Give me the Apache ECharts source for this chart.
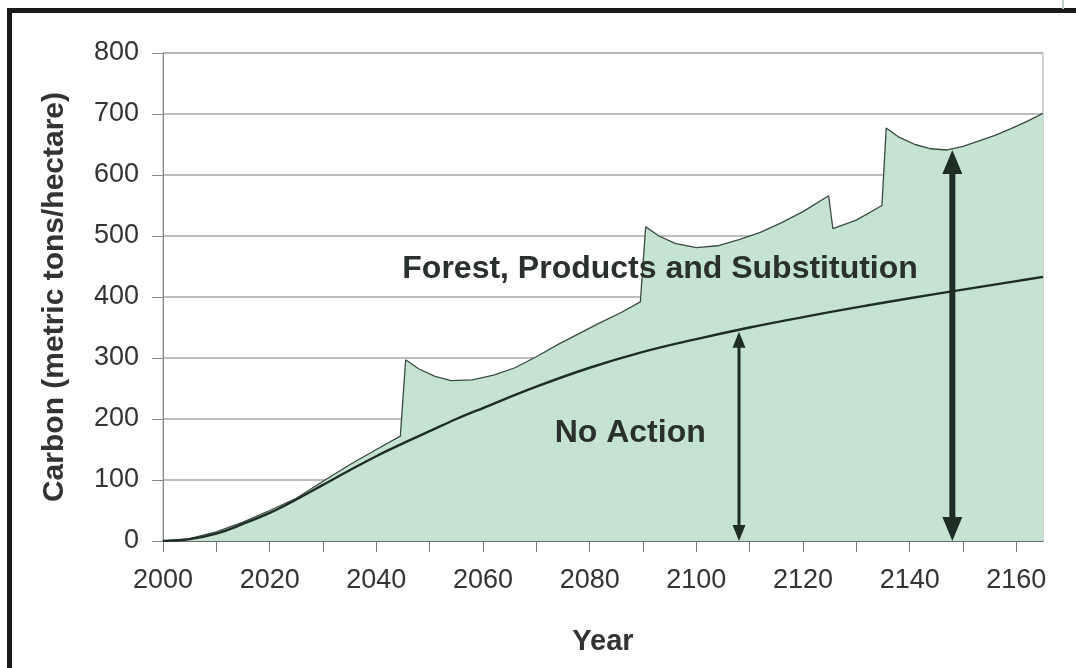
<!DOCTYPE html>
<html>
<head>
<meta charset="utf-8">
<title>Carbon per hectare</title>
<script src="https://cdn.jsdelivr.net/npm/echarts@6/dist/echarts.min.js"></script>
<style>
  html, body { margin: 0; padding: 0; background: #fff; }
  #chart { width: 1076px; height: 668px; }
</style>
</head>
<body>
<div id="chart"></div>
<script>
// upper envelope: forest + products + substitution
const upYears = [2000, 2005, 2010, 2015, 2020, 2025, 2030, 2035, 2040, 2044.5,
  2045.5, 2048, 2051, 2054, 2058, 2062, 2066, 2070, 2074, 2078, 2082, 2086, 2089.5,
  2090.5, 2093, 2096, 2100, 2104, 2108, 2112, 2116, 2120, 2124.8,
  2125.6, 2130, 2134.8,
  2135.6, 2138, 2141, 2144, 2147, 2150, 2153, 2156, 2159, 2162, 2165]
const upValues = [0, 4, 15, 31, 50, 70, 98, 125, 150, 172,
  297, 282, 270, 263, 264, 272, 284, 302, 322, 340, 358, 375, 392,
  515, 500, 488, 481, 484, 494, 506, 522, 540, 566,
  512, 526, 550,
  677, 662, 650, 643, 641, 647, 656, 665, 676, 688, 701]

// no action curve
const naYears = [2000, 2005, 2010, 2015, 2020, 2025, 2030, 2035, 2040, 2045, 2050,
  2055, 2060, 2070, 2080, 2090, 2100, 2110, 2120, 2130, 2140, 2150, 2160, 2165]
const naValues = [0, 3, 12, 28, 46, 68, 92, 116, 139, 160, 180,
  200, 218, 253, 284, 310, 331, 350, 367, 383, 398, 412, 426, 433]

// double arrows
const arrowYears = [2108, 2148]
const arrowTops = [343, 641]

const labelForest = 'Forest, Products and Substitution'
const labelNoAction = 'No Action'

function pairs (xs, ys) {
    let out = []
    for (var i = 0; i < xs.length; i++) {
        out.push([xs[i], ys[i]])
    }
    return out
}

const FILL = '#c4e4d1'
const DARK = '#1f2d26'
const font = '"Liberation Sans", Arial, sans-serif'

// arrow look per arrow
const arrowStyle = [
    { width: 3, headW: 13, headL: 16 },
    { width: 6, headW: 20, headL: 24 }
]

function renderArrow (params, api) {
    const i = params.dataIndex
    const st = arrowStyle[i]
    const p0 = api.coord([api.value(0), 0])
    const p1 = api.coord([api.value(0), api.value(1)])
    const x = p0[0]
    return {
        type: 'group',
        children: [
            {
                type: 'line',
                shape: { x1: x, y1: p0[1] - st.headL + 2, x2: x, y2: p1[1] + st.headL - 2 },
                style: { stroke: DARK, lineWidth: st.width }
            },
            {
                type: 'polygon',
                shape: { points: [[x, p1[1]], [x - st.headW / 2, p1[1] + st.headL], [x + st.headW / 2, p1[1] + st.headL]] },
                style: { fill: DARK }
            },
            {
                type: 'polygon',
                shape: { points: [[x, p0[1]], [x - st.headW / 2, p0[1] - st.headL], [x + st.headW / 2, p0[1] - st.headL]] },
                style: { fill: DARK }
            }
        ]
    }
}

const myChart = echarts.init(document.getElementById('chart'))

myChart.setOption({
    animation: false,
    backgroundColor: '#fff',
    grid: {
        left: 163, right: 33, top: 53, bottom: 127,
        show: true, backgroundColor: '#fff', borderColor: '#a8a8a8', borderWidth: 1
    },
    xAxis: {
        type: 'value',
        min: 2000, max: 2165, interval: 10,
        name: 'Year',
        nameLocation: 'middle',
        nameGap: 86,
        nameTextStyle: { fontFamily: font, fontSize: 29, fontWeight: 'bold', color: '#333' },
        axisLine: { show: true, lineStyle: { color: '#555', width: 1.5 } },
        axisTick: { show: true, length: 11, lineStyle: { color: '#777' } },
        splitLine: { show: false },
        axisLabel: {
            margin: 26,
            fontFamily: font, fontSize: 27, color: '#333',
            showMaxLabel: false,
            formatter: function (v) { return v % 20 === 0 ? String(v) : '' }
        }
    },
    yAxis: {
        type: 'value',
        min: 0, max: 800, interval: 100,
        name: 'Carbon (metric tons/hectare)',
        nameLocation: 'middle',
        nameGap: 93,
        nameTextStyle: { fontFamily: font, fontSize: 30, fontWeight: 'bold', color: '#333' },
        axisLine: { show: true, lineStyle: { color: '#888' } },
        axisTick: { show: true, length: 11, lineStyle: { color: '#888' } },
        splitLine: { show: true, lineStyle: { color: '#a8a8a8', width: 1.5 } },
        axisLabel: { margin: 24, fontFamily: font, fontSize: 27, color: '#333' }
    },
    series: [
        {
            name: labelForest,
            type: 'line',
            data: pairs(upYears, upValues),
            showSymbol: false,
            smooth: false,
            lineStyle: { color: '#3b4a42', width: 1.3 },
            areaStyle: { color: FILL, opacity: 1 },
            z: 2
        },
        {
            name: labelNoAction,
            type: 'line',
            data: pairs(naYears, naValues),
            showSymbol: false,
            smooth: 0.4,
            lineStyle: { color: DARK, width: 2.4 },
            z: 3,
            markPoint: {
                symbol: 'rect',
                symbolSize: 1,
                itemStyle: { color: 'rgba(0,0,0,0)' },
                label: {
                    show: true, position: 'inside',
                    fontFamily: font, fontSize: 32, fontWeight: 'bold', color: '#2a302c',
                    formatter: '{b}'
                },
                data: [
                    { name: labelForest, coord: [2093.2, 446] },
                    { name: labelNoAction, coord: [2087.6, 177] }
                ]
            }
        },
        {
            type: 'custom',
            renderItem: renderArrow,
            data: pairs(arrowYears, arrowTops),
            z: 4
        }
    ],
    graphic: [
        { type: 'rect', left: 7, top: 8, shape: { width: 1069, height: 5 }, style: { fill: '#1a1a1a' }, z: 100 },
        { type: 'rect', left: 7, top: 8, shape: { width: 5, height: 660 }, style: { fill: '#1a1a1a' }, z: 100 },
        { type: 'rect', left: 1062, top: 0, shape: { width: 2, height: 9 }, style: { fill: '#b8cec6' }, z: 100 }
    ]
})
</script>
</body>
</html>
